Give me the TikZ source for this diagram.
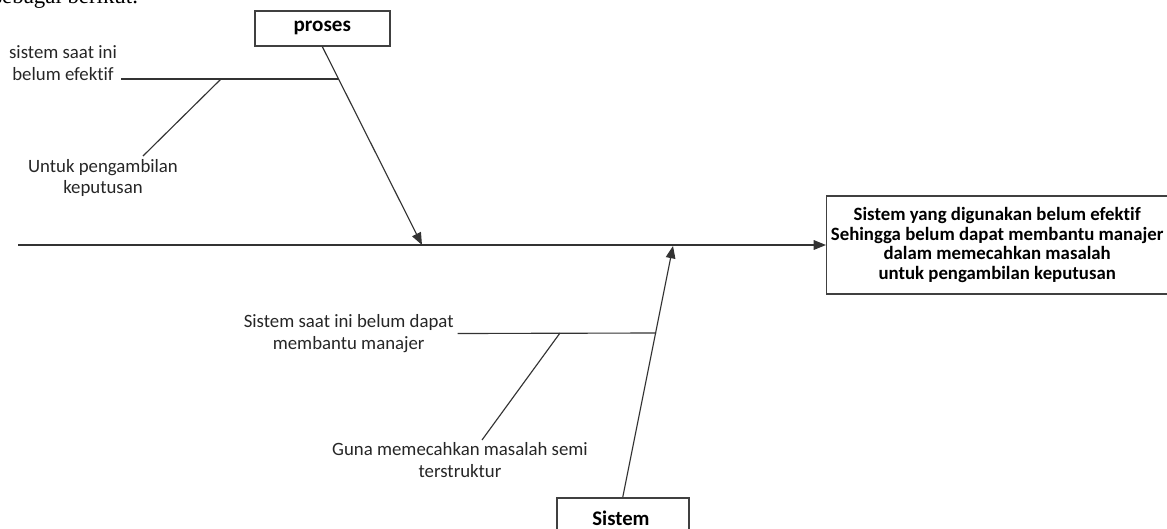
\documentclass[tikz,border=0pt]{standalone}
\usepackage{fontspec}
\setmainfont{Carlito}[Ligatures=CommonOff]
\newfontfamily\bodyfont{Liberation Serif}
\usetikzlibrary{arrows.meta}

\begin{document}
\begin{tikzpicture}[
  x=0.02cm, y=-0.02cm,
  bone/.style={
    draw=black!80, line width=0.65pt,
  },
  bone arrow/.style={
    bone, -{Triangle[length=7pt, width=5.5pt]},
  },
  cause box/.style={
    draw=black!75, line width=0.9pt, fill=white, font=\fontsize{12}{14}\selectfont\bfseries,
    minimum height=0.7cm, inner sep=0pt,
  },
  effect box/.style={
    draw=black!75, line width=0.8pt, align=center, font=\fontsize{10.7}{11.2}\selectfont\bfseries,
    minimum width=6.82cm, minimum height=1.96cm, inner sep=0pt,
  },
  cause text/.style={
    align=center, inner sep=0pt, text=black!85, font=\fontsize{10.7}{12.5}\selectfont,
  }
  ]
  \useasboundingbox (0,0) rectangle (1167,528);

  % text of the page above the picture
  \node[anchor=base west, inner sep=0pt, font=\bodyfont\fontsize{13}{15}\selectfont] (intro) at (-7,3) {sebagai berikut.};

  % head and spine
  \node[effect box, anchor=west] (effect) at (826,245) {Sistem yang digunakan belum efektif\\Sehingga belum dapat membantu manajer\\dalam memecahkan masalah\\untuk pengambilan keputusan};
  \coordinate (tail) at (18,245);
  \draw[bone arrow] (tail) -- (effect.west);

  % upper bone
  \node[cause box, minimum width=2.7cm, anchor=north west] (proses) at (254,10) {proses};
  \coordinate (proses end) at (422,245);
  \coordinate (proses fork) at (339,79);
  \coordinate (proses twig) at (221,79);
  \coordinate (proses tip) at (143,156);
  \node[cause text] (belum efektif) at (63,63) {sistem saat ini\\belum efektif};
  \node[cause text] (pengambilan) at (103,178) {Untuk pengambilan\\keputusan};
  \draw[bone arrow] (proses.south) -- (proses end);
  \draw[bone] (proses fork) -- ([xshift=2pt]belum efektif.east |- proses fork);
  \draw[bone] (proses twig) -- (proses tip);

  % lower bone
  \node[cause box, minimum width=2.64cm, minimum height=0.9cm, anchor=north west] (sistem) at (556,497) {};
  \node[font=\fontsize{11.8}{13}\selectfont\bfseries, inner sep=0pt] (sistem label) at (621,518) {Sistem};
  \coordinate (sistem end) at (673,246);
  \coordinate (sistem fork) at (656,333);
  \coordinate (sistem twig) at (560,333);
  \coordinate (sistem tip) at (482,440);
  \node[cause text, anchor=east] (membantu) at (454,333.5) {Sistem saat ini belum dapat\\membantu manajer};
  \node[cause text] (semi) at (460,460) {Guna memecahkan masalah semi\\terstruktur};
  \draw[bone arrow] (sistem.north) -- (sistem end);
  \draw[bone] (sistem fork) -- ([xshift=2pt]membantu.east);
  \draw[bone] (sistem twig) -- (sistem tip);
\end{tikzpicture}
\end{document}
